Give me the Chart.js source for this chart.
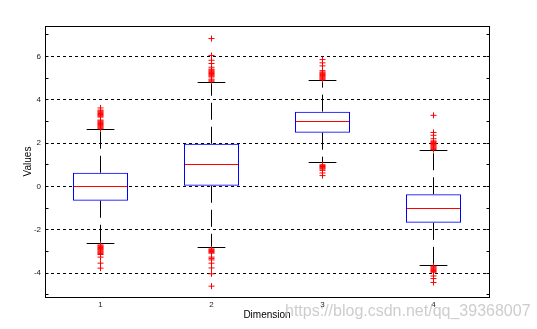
<!DOCTYPE html>
<html>
<head>
<meta charset="utf-8">
<script src="https://cdn.jsdelivr.net/npm/chart.js@4/dist/chart.umd.min.js"></script>
<style>
  html, body { margin: 0; padding: 0; background: #fff; }
  #wrap { position: relative; width: 537px; height: 329px; }
</style>
</head>
<body>
<div id="wrap"><canvas id="boxChart"></canvas></div>
<script>
// ── Box statistics per dimension ──────────────────────────
const dimensions   = [1, 2, 3, 4];
const lowerWhisker = [-2.65, -2.83, 1.09, -3.66];
const q1           = [-0.66, 0.03, 2.48, -1.68];
const medians      = [0.0, 1.0, 2.99, -1.03];
const q3           = [0.63, 1.97, 3.45, -0.36];
const upperWhisker = [2.62, 4.79, 4.88, 1.65];

// ── Outliers (red "+") ────────────────────────────────────
const outliers1 = [2.66, 2.7, 2.74, 2.78, 2.82, 2.86, 2.9, 2.94, 2.98, 3.02, 3.06, 3.2, 3.24, 3.28, 3.32, 3.36, 3.4, 3.44, 3.48, 3.52, 3.62,
                   -2.7, -2.74, -2.78, -2.82, -2.86, -2.9, -2.94, -2.98, -3.02, -3.06, -3.1, -3.14, -3.26, -3.54, -3.77];
const outliers2 = [4.85, 4.9, 4.95, 5.05, 5.09, 5.13, 5.17, 5.21, 5.25, 5.29, 5.33, 5.37, 5.41, 5.5, 5.67, 5.82, 6.04, 6.82,
                   -2.88, -2.92, -2.96, -3.0, -3.04, -3.08, -3.26, -3.32, -3.39, -3.54, -3.76, -4.03, -4.6];
const outliers3 = [4.92, 4.96, 5.0, 5.04, 5.08, 5.12, 5.16, 5.2, 5.24, 5.28, 5.34, 5.56, 5.7, 5.85,
                   1.0, 0.96, 0.92, 0.88, 0.84, 0.8, 0.74, 0.62, 0.5];
const outliers4 = [1.7, 1.74, 1.78, 1.82, 1.86, 1.9, 1.94, 1.98, 2.02, 2.06, 2.1, 2.2, 2.36, 2.49, 3.28,
                   -3.68, -3.72, -3.76, -3.8, -3.84, -3.88, -3.92, -3.96, -4.13, -4.25, -4.43];
const outliers = [outliers1, outliers2, outliers3, outliers4];

// ── Axis ticks ────────────────────────────────────────────
const yTicks = [-5, -4, -3, -2, -1, 0, 1, 2, 3, 4, 5, 6, 7];

const BLUE = '#0000ff';
const RED  = '#ff0000';
const CAP_HALF = 0.125;   // whisker cap half-width, in x units

Chart.defaults.font.family = '"Liberation Sans", Arial, sans-serif';
Chart.defaults.color = '#222';

function line(ctx, x1, y1, x2, y2) {
    ctx.beginPath();
    ctx.moveTo(x1, y1);
    ctx.lineTo(x2, y2);
    ctx.stroke();
}
const crisp = v => Math.round(v - 0.5) + 0.5;

// whiskers, caps, medians, frame and inner tick marks
const boxDecor = {
    id: 'boxDecor',
    beforeDatasetsDraw(chart) {
        const { ctx, scales: { x, y } } = chart;
        const bars = chart.getDatasetMeta(0).data;
        ctx.save();
        ctx.lineWidth = 1;
        dimensions.forEach((d, i) => {
            const cx = crisp(x.getPixelForValue(d));
            const capL = x.getPixelForValue(d - CAP_HALF);
            const capR = x.getPixelForValue(d + CAP_HALF);
            const yHi = crisp(y.getPixelForValue(upperWhisker[i]));
            const yLo = crisp(y.getPixelForValue(lowerWhisker[i]));

            ctx.strokeStyle = '#000';
            ctx.setLineDash([17, 7]);
            line(ctx, cx, y.getPixelForValue(q3[i]), cx, yHi);
            line(ctx, cx, y.getPixelForValue(q1[i]), cx, yLo);
            ctx.setLineDash([]);
            line(ctx, capL, yHi, capR, yHi);
            line(ctx, capL, yLo, capR, yLo);

            const bar = bars[i];
            const ym = crisp(y.getPixelForValue(medians[i]));
            ctx.strokeStyle = RED;
            line(ctx, bar.x - bar.width / 2, ym, bar.x + bar.width / 2, ym);
        });
        ctx.restore();
    },
    afterDraw(chart) {
        const { ctx, chartArea: a, scales: { y } } = chart;
        ctx.save();
        ctx.strokeStyle = '#000';
        ctx.lineWidth = 1;
        const l = crisp(a.left), r = crisp(a.right), t = crisp(a.top), b = crisp(a.bottom);
        ctx.strokeRect(l, t, r - l, b - t);
        yTicks.forEach(v => {
            const py = crisp(y.getPixelForValue(v));
            line(ctx, l, py, l + 3, py);
            line(ctx, r - 3, py, r, py);
        });

        // blog watermark
        ctx.font = '16px "Liberation Sans", Arial, sans-serif';
        ctx.fillStyle = 'rgba(200,200,200,0.9)';
        ctx.textBaseline = 'alphabetic';
        ctx.fillText('https://blog.csdn.net/qq_39368007', 285, 316);
        ctx.restore();
    }
};

new Chart(document.getElementById('boxChart'), {
    type: 'bar',
    data: {
        datasets: [{
            type: 'bar',
            data: dimensions.map((d, i) => ({ x: d, y: [q1[i], q3[i]] })),
            backgroundColor: 'rgba(0,0,0,0)',
            borderColor: BLUE,
            borderWidth: 1,
            borderSkipped: false,
            categoryPercentage: 1,
            barPercentage: 55 / 111,
        }, {
            type: 'scatter',
            data: outliers.flatMap((list, i) => list.map(v => ({ x: dimensions[i], y: v }))),
            pointStyle: 'cross',
            pointRadius: 3,
            borderColor: RED,
            backgroundColor: RED,
            borderWidth: 1,
        }],
    },
    options: {
        responsive: true,
        maintainAspectRatio: false,
        animation: false,
        events: [],
        layout: { padding: { left: 0, top: 26, right: 48, bottom: 0 } },
        plugins: { legend: { display: false }, tooltip: { enabled: false } },
        scales: {
            x: {
                type: 'linear',
                offset: false,
                min: 0.5,
                max: 4.5,
                afterBuildTicks: axis => { axis.ticks = dimensions.map(v => ({ value: v })); },
                afterFit: axis => { axis.height = 32; },
                grid: { display: false, drawTicks: false, offset: false },
                border: { display: false },
                ticks: { padding: 3, font: { size: 8 } },
                title: { display: true, text: 'Dimension', color: '#000', font: { size: 10 }, padding: { top: 0, bottom: 8 } },
            },
            y: {
                min: -5.1,
                max: 7.4,
                afterBuildTicks: axis => { axis.ticks = yTicks.map(v => ({ value: v })); },
                afterFit: axis => { axis.width = 45; },
                grid: {
                    drawTicks: false,
                    lineWidth: 1,
                    color: c => (c.tick && c.tick.value % 2 === 0) ? '#000' : 'rgba(0,0,0,0)',
                },
                border: { display: false, dash: [3, 3] },
                ticks: { padding: 4, font: { size: 8 }, callback: v => v % 2 === 0 ? v : '' },
                title: { display: true, text: 'Values', color: '#000', font: { size: 10 }, padding: { top: 22, bottom: 0 } },
            },
        },
    },
    plugins: [boxDecor],
});
</script>
</body>
</html>
